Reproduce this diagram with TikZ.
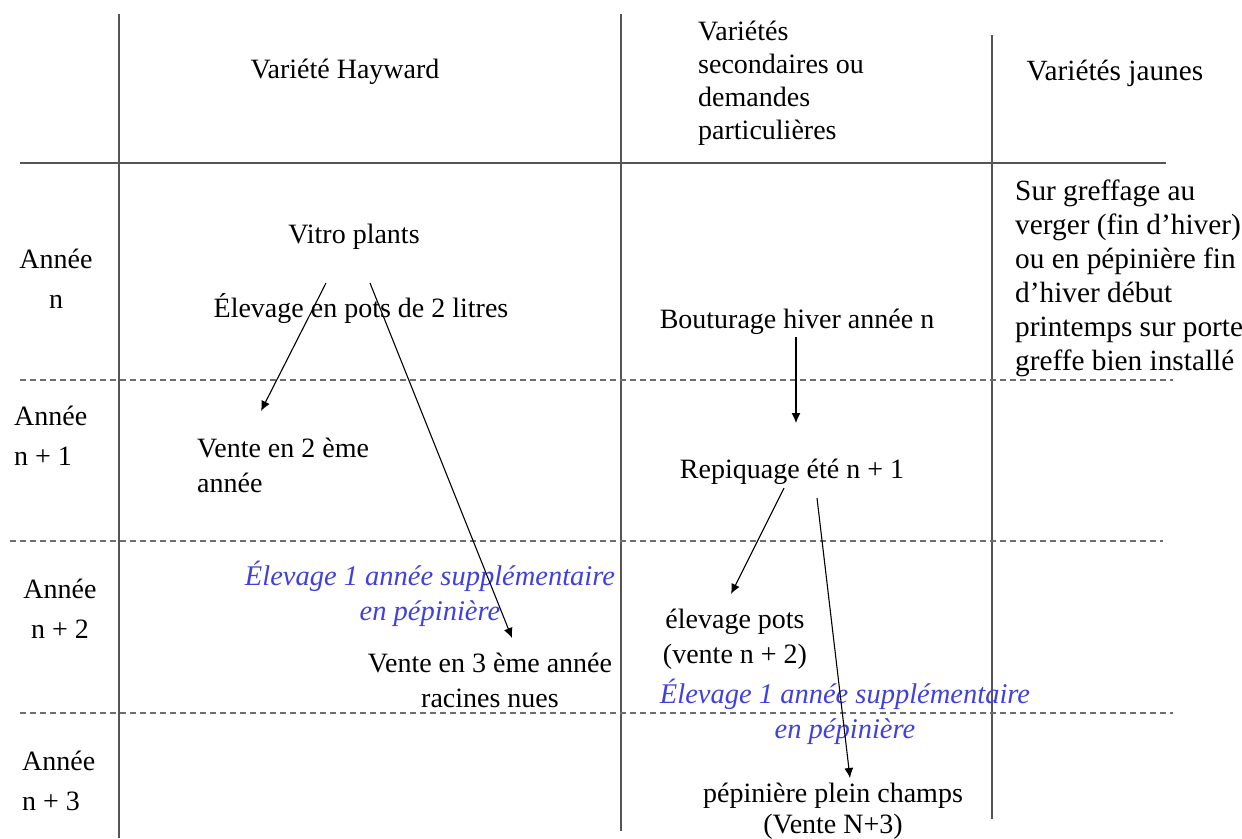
\documentclass[tikz,border=0pt]{standalone}
\usepackage{fontspec}
\setmainfont{Liberation Serif}
\usetikzlibrary{arrows.meta}
\definecolor{gridgray}{RGB}{85,85,85}
\definecolor{dashgray}{RGB}{110,110,110}
\definecolor{noteblue}{RGB}{64,64,220}
\begin{document}
\begin{tikzpicture}[x=1pt,y=-1pt,
  txt/.style={inner sep=0pt, font=\fontsize{28}{34.5}\selectfont, text=black},
  rtxt/.style={inner sep=0pt, font=\fontsize{29.3}{34}\selectfont, text=black},
  rowlab/.style={inner sep=0pt, font=\fontsize{28}{40}\selectfont, text=black},
  note/.style={inner sep=0pt, font=\fontsize{28.5}{35}\selectfont\itshape, text=noteblue},
  solidrule/.style={draw=gridgray, line width=1.8pt},
  dashrule/.style={draw=dashgray, line width=1.3pt, dash pattern=on 6pt off 4pt},
  flow/.style={draw=black, line width=1.1pt, -{Latex[length=10pt,width=9pt]}}]
\useasboundingbox (0,0) rectangle (1242,838);
% table rules
\draw[solidrule] (119,14) -- (119,838);
\draw[solidrule] (621,14) -- (621,831);
\draw[solidrule] (992,35) -- (992,819);
\draw[solidrule] (20,163) -- (1166,163);
\draw[dashrule] (20,380) -- (1173,380);
\draw[dashrule] (10,541) -- (1163,541);
\draw[dashrule] (20,713) -- (1173,713);
% headers (base anchor = baseline of last line)
\node[txt, anchor=base] (hay) at (345,78) {Variété Hayward};
\node[txt, align=left, anchor=base west, font=\fontsize{28}{33}\selectfont] (sec) at (698,139) {Variétés\\secondaires ou\\demandes\\particulières};
\node[rtxt, anchor=base] (jau) at (1115,80) {Variétés jaunes};
\node[rtxt, align=left, anchor=base west] (sur) at (1015,370) {Sur greffage au\\verger (fin d’hiver)\\ou en pépinière fin\\d’hiver début\\printemps sur porte\\greffe bien installé};
% row labels
\node[rowlab, align=center, anchor=base] (yn) at (56,308) {Année\\n};
\node[rowlab, align=left, anchor=base west] (yn1) at (14,465) {Année\\n + 1};
\node[rowlab, align=center, anchor=base] (yn2) at (60,638) {Année\\n + 2};
\node[rowlab, align=left, anchor=base west] (yn3) at (22,810) {Année\\n + 3};
% Hayward column
\node[txt, anchor=base] (vitro) at (354,243) {Vitro plants};
\node[txt, anchor=base] (elev) at (361,317) {Élevage en pots de 2 litres};
\node[txt, align=left, anchor=base west] (v2) at (197,492) {Vente en 2 ème\\année};
\node[note, align=center, anchor=base] (blue1) at (430,620) {Élevage 1 année supplémentaire\\en pépinière};
\node[txt, align=center, anchor=base] (v3) at (490,707) {Vente en 3 ème année\\racines nues};
% secondary column
\node[txt, anchor=base] (bout) at (797,328) {Bouturage hiver année n};
\node[txt, anchor=base] (repi) at (792,478) {Repiquage été n + 1};
\node[txt, align=center, anchor=base] (epots) at (735,663) {élevage pots\\(vente n + 2)};
\node[note, align=center, anchor=base] (blue2) at (845,738) {Élevage 1 année supplémentaire\\en pépinière};
\node[txt, align=center, anchor=base, font=\fontsize{28}{31}\selectfont] (pep) at (833,833) {pépinière plein champs\\(Vente N+3)};
% arrow ends
\coordinate (a1s) at (326,283);
\coordinate (a1e) at (261,411);
\coordinate (a2s) at (370,283);
\coordinate (a2e) at (512,638);
\coordinate (a3s) at (796,337);
\coordinate (a3e) at (796,423);
\coordinate (a4s) at (784,488);
\coordinate (a4e) at (731,594);
\coordinate (a5s) at (817,498);
\coordinate (a5e) at (850,778);
\draw[flow] (a1s) -- (a1e);
\draw[flow] (a2s) -- (a2e);
\draw[flow] (a3s) -- (a3e);
\draw[flow] (a4s) -- (a4e);
\draw[flow] (a5s) -- (a5e);
\end{tikzpicture}
\end{document}
